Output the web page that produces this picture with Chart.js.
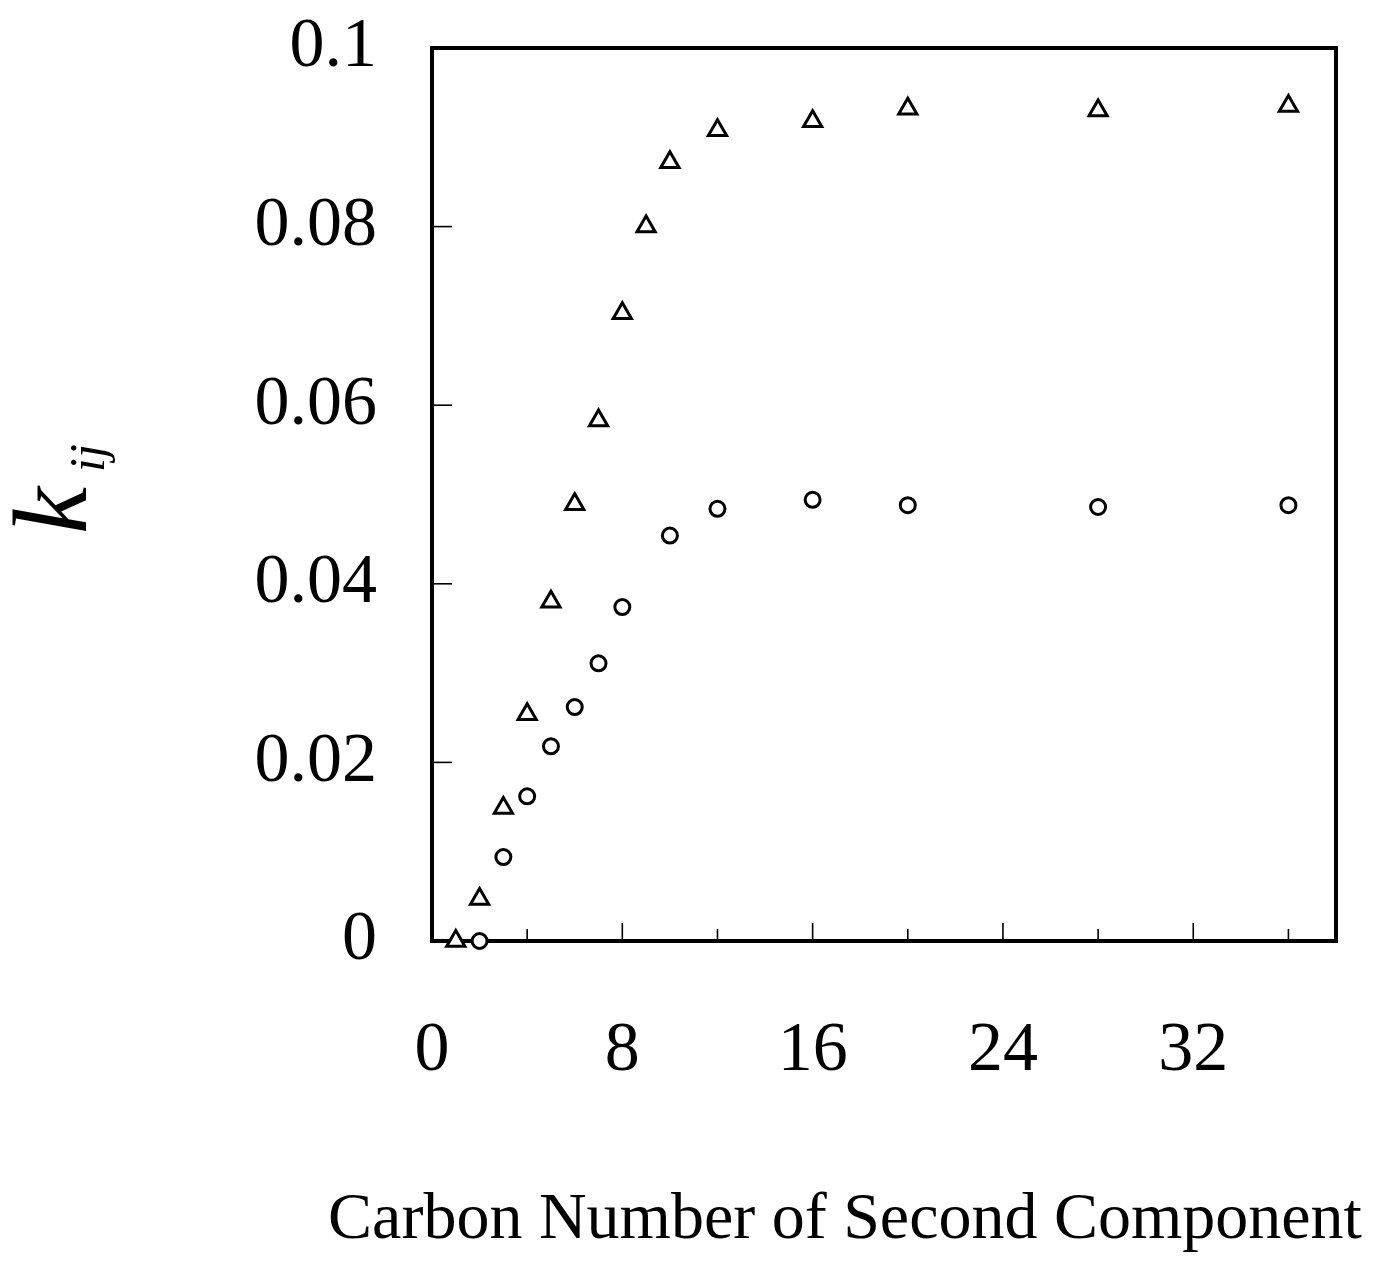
<!DOCTYPE html>
<html>
<head>
<meta charset="utf-8">
<script src="https://cdn.jsdelivr.net/npm/chart.js@4/dist/chart.umd.min.js"></script>
<style>
body{margin:0;background:#fff;}
canvas{display:block;}
</style>
</head>
<body>
<canvas id="c" width="1377" height="1267"></canvas>
<script>
// kij vs carbon number
const triX=[1,2,3,4,5,6,7,8,9,10,12,16,20,28,36];
const triY=[0,0.0047,0.0149,0.0254,0.038,0.0489,0.0583,0.0703,0.080,0.0872,0.0908,0.0918,0.0932,0.093,0.0935];
const circX=[2,3,4,5,6,7,8,10,12,16,20,28,36];
const circY=[0,0.0094,0.0162,0.0218,0.0262,0.0311,0.0374,0.0454,0.0484,0.0494,0.0488,0.0486,0.0488];
const xTicks=[0,8,16,24,32];
const xMinor=[4,8,12,16,20,24,28,32,36];
const yTicks=[0.02,0.04,0.06,0.08];
const xTitle='Carbon Number of Second Component';

const serif='"Liberation Serif","DejaVu Serif",serif';
const pts=(xs,ys)=>xs.map((x,i)=>({x:x,y:ys[i]}));

const framePlugin={
  id:'frame',
  beforeDatasetsDraw(chart){
    const ctx=chart.ctx, a=chart.chartArea, xs=chart.scales.x, ys=chart.scales.y;
    ctx.save();
    ctx.strokeStyle='#000';
    ctx.lineWidth=1.6;
    xMinor.forEach(v=>{
      const px=xs.getPixelForValue(v);
      const len=(v%8===0)?18:12;
      ctx.beginPath();ctx.moveTo(px,a.bottom);ctx.lineTo(px,a.bottom-len);ctx.stroke();
    });
    yTicks.forEach(v=>{
      const py=ys.getPixelForValue(v);
      ctx.beginPath();ctx.moveTo(a.left,py);ctx.lineTo(a.left+20,py);ctx.stroke();
    });
    ctx.lineWidth=4;
    ctx.strokeRect(a.left,a.top,a.right-a.left,a.bottom-a.top);
    ctx.restore();
  },
  afterDraw(chart){
    const ctx=chart.ctx;
    ctx.save();
    ctx.fillStyle='#000';
    // x axis title (drawn here so it is not squeezed to the plot width)
    ctx.font='66px '+serif;
    ctx.textAlign='center';
    ctx.textBaseline='alphabetic';
    ctx.fillText(xTitle,845,1238);
    // y axis title k_ij, rotated
    ctx.translate(86,534);
    ctx.rotate(-Math.PI/2);
    ctx.textAlign='left';
    ctx.font='italic 106px '+serif;
    ctx.fillText('k',0,0);
    ctx.font='italic 50px '+serif;
    ctx.fillText('ij',62,18);
    ctx.restore();
  }
};

new Chart(document.getElementById('c'),{
  type:'scatter',
  data:{datasets:[
    {label:'triangle',data:pts(triX,triY),pointStyle:'triangle',pointRadius:10.5,pointHoverRadius:10.5,
     borderColor:'#000',backgroundColor:'#fff',pointBorderWidth:3,clip:false},
    {label:'circle',data:pts(circX,circY),pointStyle:'circle',pointRadius:7.5,pointHoverRadius:7.5,
     borderColor:'#000',backgroundColor:'#fff',pointBorderWidth:3,clip:false}
  ]},
  options:{
    responsive:false,
    animation:false,
    devicePixelRatio:1,
    layout:{padding:{top:48,right:41,left:0,bottom:0}},
    plugins:{legend:{display:false},tooltip:{enabled:false}},
    scales:{
      x:{type:'linear',min:0,max:38,
        grid:{display:false,drawTicks:false},border:{display:false},
        afterBuildTicks:s=>{s.ticks=xTicks.map(v=>({value:v}));},
        ticks:{color:'#000',padding:69,maxRotation:0,font:{family:serif,size:70}},
        afterFit:s=>{s.height=326;s.paddingLeft=0;s.paddingRight=0;}
      },
      y:{type:'linear',min:0,max:0.1,
        grid:{display:false,drawTicks:false},border:{display:false},
        ticks:{color:'#000',padding:55,stepSize:0.02,includeBounds:false,font:{family:serif,size:70},
          callback:v=>String(+v.toFixed(3))},
        afterFit:s=>{s.width=432;s.paddingTop=0;s.paddingBottom=0;}
      }
    }
  },
  plugins:[framePlugin]
});
</script>
</body>
</html>
